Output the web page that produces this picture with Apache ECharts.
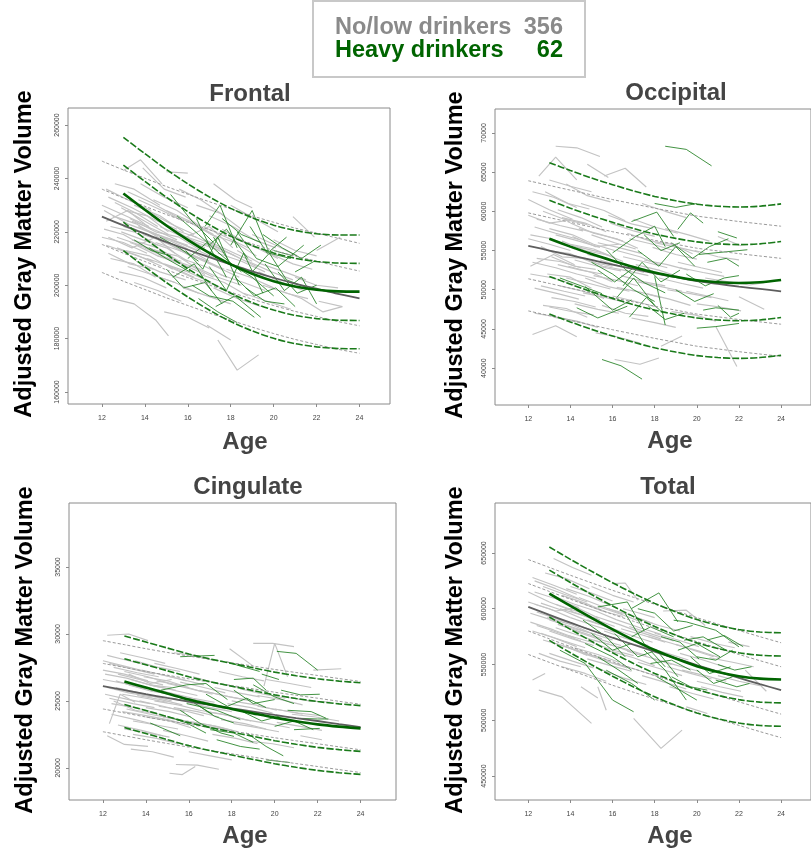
<!DOCTYPE html>
<html><head><meta charset="utf-8">
<script src="https://cdn.jsdelivr.net/npm/echarts@6/dist/echarts.min.js"></script>
<style>html,body{margin:0;padding:0;background:#fff}#c{width:811px;height:852px}</style>
</head><body><div id="c"></div><script>
// All volumes stored in thousands (x1000 for labels)
const UNIT = 1000;
const agesGray = [12,13,14,15,16,17,18,19,20,21,22,23,24];
const agesGreen = [13,14,15,16,17,18,19,20,21,22,23,24];
const xTicks = [12,14,16,18,20,22,24];
const groupNames = ['No/low drinkers','Heavy drinkers'];
const groupCounts = [356,62];

// ---------- Frontal ----------
const frontalTicks = [160,180,200,220,240,260];
const frontalGrayMean = [225.7,222.4,219.3,216.2,213.3,210.5,207.8,205.2,202.8,200.6,198.7,196.8,195.1];
const frontalGrayDash = [
[246.5,243.2,240.1,237.0,234.1,231.3,228.6,226.0,223.6,221.4,219.5,217.6,215.7],
[236.0,232.7,229.6,226.5,223.6,220.8,218.1,215.5,213.1,210.9,209.0,207.1,205.3],
[215.3,212.0,208.9,205.8,202.9,200.1,197.4,194.8,192.4,190.2,188.3,186.4,184.8],
[204.8,201.5,198.4,195.3,192.4,189.6,186.9,184.3,181.9,179.7,177.8,176.0,174.5]];
const frontalGreenMean = [234.4,228.3,222.4,217.0,212.1,207.8,204.3,201.5,199.5,198.3,197.7,197.6];
const frontalGreenDash = [
[255.4,249.3,243.4,238.0,233.1,228.8,225.3,222.5,220.5,219.3,218.8,218.8],
[245.0,238.9,233.0,227.6,222.7,218.4,214.9,212.1,210.1,208.9,208.3,208.2],
[223.6,217.5,211.6,206.2,201.3,197.0,193.5,190.7,188.7,187.5,186.9,186.8],
[213.0,206.9,201.0,195.6,190.7,186.4,182.9,180.1,178.1,176.9,176.3,176.2]];
const frontalGrayLines = [
[12.0,230,13.1,226,14.2,222],[12.1,221,13.0,219,14.1,214,15.0,212],[12.2,215,13.3,212,14.4,209],[12.3,233,13.4,229,14.6,224,15.5,221],
[12.4,210,13.5,208,14.5,203],[12.5,226,13.6,223,14.8,217],[12.6,238,13.5,236,14.7,230],[12.7,218,13.8,215,14.9,212,15.9,207],
[12.8,205,13.9,203,15.0,199],[12.9,229,14.0,224,15.1,219],[13.0,243,13.8,247,14.8,238],[13.0,222,14.1,219,15.2,215,16.1,211],
[13.1,213,14.2,211,15.3,206],[13.2,235,14.3,231,15.4,226],[13.3,225,14.5,220,15.6,218,16.6,213],[13.4,217,14.6,214,15.6,209],
[13.5,230,14.7,226,15.8,220],[13.6,209,14.7,205,15.9,202],[13.7,222,14.9,218,16.0,215],[13.8,238,14.9,233,16.0,229],
[14.0,214,15.1,210,16.2,207,17.2,203],[14.1,228,15.2,223,16.3,219],[14.2,220,15.3,217,16.4,213],[14.3,204,15.4,201,16.5,197],
[14.4,232,15.5,228,16.6,222],[14.5,225,15.6,219,16.7,216,17.7,212],[14.6,211,15.7,208,16.8,204],[14.8,218,15.9,214,17.0,209],
[15.0,242.5,16.0,242],[15.0,228,16.1,224,17.2,219],[15.1,207,16.2,203,17.3,200,18.3,196],[15.3,221,16.4,216,17.5,213],
[15.5,214,16.6,210,17.7,206],[15.6,236,16.6,232,17.7,226],[15.8,199,16.9,196,18.0,193],[16.0,224,17.1,219,18.2,216,19.2,211],
[16.2,211,17.3,207,18.4,203],[16.4,230,17.5,227,18.5,221],[16.6,204,17.7,201,18.8,196],[16.8,217,17.9,213,19.0,209],
[17.0,226,18.1,222,19.1,217,20.1,214],[17.2,199,18.3,195,19.4,192],[17.4,212,18.5,209,19.6,205],[17.6,221,18.7,216,19.8,212],
[17.8,206,18.9,203,20.0,199],[18.0,230,19.1,225,20.2,220],[18.3,213,19.4,208,20.5,205,21.5,202],[18.6,197,19.7,194,20.8,191],
[19.0,219,20.1,215,21.1,211],[19.3,205,20.4,201,21.4,198],[19.8,212,20.9,208,21.8,206],[20.9,225.7,21.9,218],
[22.0,213,23.1,218],[22.1,194,23.2,192],[12.5,195,13.5,193,14.5,187,15.1,181],[17.4,179.5,18.3,168.2,19.3,173.9],
[16.9,185,18.0,179.5],[20.3,198,21.3,195,22.3,190,23.2,192],[12.2,224,13.2,228,14.3,221],[13.5,201,14.6,198,15.7,194],
[14.9,190,16.0,188,17.0,184],[21.0,203,22.0,200,23.0,199],[15.9,218,17.0,222,18.1,214],[12.3,218,13.4,214,14.5,218,15.4,212],
[17.2,238,18.2,232,19.0,229],[13.9,244,14.9,236,15.9,233],
[12.0,218,13.0,216,14.1,212],[12.1,228,13.2,223,14.2,220,15.1,217],[12.3,212,13.3,208,14.4,206],[12.4,222,13.5,220,14.6,215],
[12.6,231,13.6,227,14.6,222],[12.7,214,13.7,211,14.8,207],[12.9,220,13.9,217,15.0,214,16.0,209],[13.1,228,14.1,226,15.1,220],
[13.2,207,14.3,204,15.4,201],[13.4,224,14.4,221,15.5,217],[13.6,215,14.6,211,15.7,209],[13.7,232,14.8,228,15.8,224],
[13.9,219,15.0,216,16.0,212],[14.1,210,15.2,207,16.3,203],[14.3,226,15.3,221,16.4,218],[14.5,216,15.6,213,16.6,210,17.6,206],
[14.7,222,15.8,218,16.8,214],[14.9,208,16.0,205,17.1,201],[15.2,217,16.2,214,17.3,210],[15.4,226,16.5,222,17.5,217],
[15.7,210,16.8,207,17.8,203],[16.1,219,17.2,215,18.2,211],[16.3,207,17.4,203,18.5,200],[16.7,222,17.8,218,18.8,214],
[17.1,215,18.2,211,19.2,207],[17.5,204,18.6,201,19.6,198],[18.1,218,19.2,214,20.2,210],[18.8,209,19.9,205,20.9,202],
[19.5,200,20.6,197,21.6,195],[20.0,217,21.0,213,22.0,211],[12.2,236,13.2,232,14.3,228],[13.3,216,14.4,213,15.5,211,16.5,206]
];
const frontalGreenLines = [
[15.2,234,16.2,224,17.2,216],[15.5,226,16.5,219,17.6,211,18.5,205],[16.4,225,17.0,215,17.8,221,18.8,210],[16.8,222,17.5,230,18.3,214],
[17.2,218,18.0,208,19.0,203,20.0,196],[18.0,215,19.0,228,19.8,212,20.8,210],[14.2,214,15.0,210,16.1,205],[15.0,206,15.8,199,16.8,201,17.6,193],
[15.9,213,16.7,206,17.4,218,18.4,200],[16.2,200,17.0,196,18.1,194,19.1,188],[17.0,207,17.8,198,18.6,212,19.5,197],[18.3,220,19.2,210,20.2,207,21.4,215],
[19.0,205,19.8,212,20.6,202,21.6,199],[19.5,219,20.4,214,21.3,210,22.2,215],[18.2,203,19.1,196,20.1,199,21.0,192],[17.3,192,18.2,196,19.4,188],
[19.6,208,20.5,198,21.3,203,22.0,193],[20.0,213,20.9,211],[16.0,210,16.9,216,17.8,203],[14.7,218,15.6,214,16.5,209],
[17.6,225,18.5,219,19.4,216],[18.7,199,19.6,194,20.5,193],[20.2,205,21.1,197,22.0,200],[16.5,195,17.4,190,18.3,186],
[13.5,217,14.3,213,15.2,211],[15.3,203,16.3,208,17.1,198],[18.9,222,19.7,212,20.6,218],[21.0,205,21.9,209]
];

// ---------- Occipital ----------
const occipitalTicks = [40,45,50,55,60,65,70];
const occipitalGrayMean = [55.6,55.0,54.4,53.8,53.2,52.65,52.1,51.6,51.1,50.75,50.4,50.1,49.8];
const occipitalGrayDash = [
[63.9,63.3,62.7,62.1,61.5,60.95,60.4,59.9,59.4,59.05,58.7,58.4,58.1],
[59.8,59.2,58.6,58.0,57.4,56.85,56.3,55.8,55.3,54.95,54.6,54.3,54.0],
[51.4,50.8,50.2,49.6,49.0,48.45,47.9,47.4,46.9,46.55,46.2,45.9,45.6],
[47.3,46.7,46.1,45.5,44.9,44.35,43.8,43.3,42.8,42.45,42.1,41.8,41.5]];
const occipitalGreenMean = [56.5,55.5,54.55,53.7,52.9,52.2,51.65,51.2,50.95,50.85,50.95,51.25];
const occipitalGreenDash = [
[66.2,65.2,64.25,63.4,62.6,61.9,61.35,60.9,60.65,60.55,60.65,60.95],
[61.4,60.4,59.45,58.6,57.8,57.1,56.55,56.1,55.85,55.75,55.85,56.15],
[51.7,50.7,49.75,48.9,48.1,47.4,46.85,46.4,46.15,46.05,46.15,46.45],
[46.9,45.9,44.95,44.1,43.3,42.6,42.05,41.6,41.35,41.25,41.35,41.65]];
const occipitalGrayLines = [
[12.0,61.5,13.0,60.2,14.1,59.0],[12.1,57.0,13.1,56.5,14.2,55.2],[12.2,53.5,13.3,52.8,14.3,52.0,15.2,51.4],[12.3,50.2,13.4,49.5,14.4,48.8],
[12.2,44.3,13.3,45.4,14.3,44.0],[12.5,64.5,13.3,66.9,14.3,64.0],[13.3,68.3,14.3,68.1,15.4,67.0],[12.4,59.0,13.5,58.2,14.6,57.5],
[12.6,55.5,13.6,54.2,14.7,54.0,15.7,52.8],[12.7,48.0,13.8,47.6,14.8,46.5],[12.8,62.5,13.9,61.0,14.9,60.3],[12.9,52.0,14.0,51.6,15.0,50.2],
[13.0,57.8,14.1,57.0,15.1,55.8,16.1,55.0],[13.1,54.2,14.2,53.0,15.2,52.6],[13.2,46.5,14.3,46.0,15.3,45.2],[13.4,60.2,14.5,59.2,15.5,58.0],
[13.5,50.5,14.6,49.8,15.6,48.9],[13.6,56.2,14.7,55.0,15.8,54.4],[13.8,63.5,14.8,62.0,15.9,61.2],[13.9,53.0,15.0,52.2,16.0,51.0],
[14.0,58.5,15.1,57.2,16.2,56.5,17.2,55.3],[14.2,48.2,15.3,47.5,16.3,47.0],[14.3,55.5,15.4,54.8,16.5,53.6],[14.5,61.0,15.6,60.1,16.6,58.8],
[14.7,51.5,15.8,50.4,16.8,49.8],[15.0,57.0,16.1,56.0,17.1,55.2],[15.2,44.5,16.2,44.0,17.3,43.2],[15.4,53.8,16.5,52.9,17.5,52.2],
[15.6,64.5,16.6,65.5,17.6,63.1],[15.8,59.5,16.9,58.4,17.9,57.8],[16.1,41.1,17.3,40.5,18.2,41.3],[16.0,49.2,17.1,48.5,18.1,47.8],
[16.2,55.0,17.3,54.2,18.3,53.1],[16.4,51.8,17.5,51.0,18.5,50.5],[16.7,57.2,17.8,56.2,18.8,55.8,19.8,54.6],[16.9,46.4,18.0,45.8,19.0,45.2],
[17.1,53.2,18.2,52.5,19.2,51.6],[17.4,61.0,18.5,60.0,19.5,59.2],[17.6,49.5,18.7,48.8,19.7,48.0],[17.9,55.4,19.0,54.5,20.0,53.9],
[18.3,42.8,19.3,44.1],[18.2,51.5,19.3,50.8,20.3,50.2],[18.5,57.8,19.6,57.0,20.6,56.2],[18.8,47.2,19.9,46.8,20.9,46.0],
[19.1,53.5,20.2,52.8,21.2,52.2],[19.5,49.8,20.5,49.2,21.5,48.6],[19.9,55.0,21.0,54.2,22.0,53.8],[20.9,45.3,21.9,40.2],
[22.0,49.1,23.2,47.5],[20.4,51.5,21.5,51.0,22.5,50.6,23.2,50.9],[21.0,56.8,22.1,55.6],[12.0,59.5,13.0,58.5,14.0,58.9],
[13.0,64.0,14.0,63.2,15.0,62.5],[14.8,66.0,15.8,64.3],[12.3,47.0,13.4,46.5,14.5,45.8],[15.5,48.0,16.6,47.0,17.7,46.6],
[17.0,59.0,18.0,58.0,19.1,57.2],[12.1,53.0,13.2,54.5,14.2,53.2],[14.1,56.8,15.2,55.5,16.3,55.8],
[12.0,56.5,13.0,55.8,14.0,55.0],[12.1,52.0,13.2,51.5,14.2,50.6],[12.3,58.0,13.3,57.2,14.4,56.4],[12.4,54.0,13.5,53.6,14.5,52.8],
[12.6,50.5,13.7,49.8,14.7,49.2],[12.7,60.0,13.7,59.0,14.8,58.3],[12.9,55.0,14.0,54.6,15.0,53.5,16.0,53.0],[13.1,49.0,14.2,48.5,15.2,47.8],
[13.3,57.0,14.4,56.2,15.4,55.4],[13.4,53.2,14.5,52.5,15.5,52.0],[13.6,59.2,14.7,58.5,15.7,57.4],[13.8,51.5,14.9,50.8,15.9,50.1],
[14.0,55.8,15.1,55.2,16.1,54.1],[14.2,53.8,15.3,53.0,16.4,52.4],[14.4,57.8,15.5,57.0,16.5,56.2],[14.6,49.6,15.7,49.0,16.7,48.3],
[14.8,54.5,15.9,53.8,16.9,53.0,17.9,52.4],[15.1,51.8,16.2,51.2,17.2,50.5],[15.3,56.0,16.4,55.3,17.4,54.6],[15.6,53.0,16.7,52.4,17.7,51.8],
[15.9,58.5,17.0,57.5,18.0,56.8],[16.2,50.3,17.3,49.7,18.3,49.0],[16.5,54.2,17.6,53.5,18.6,52.8],[16.8,56.5,17.9,55.8,18.9,55.0],
[17.2,51.0,18.3,50.4,19.3,49.8],[17.5,53.8,18.6,53.2,19.6,52.5],[18.0,56.0,19.1,55.4,20.1,54.8],[18.6,50.0,19.7,49.5,20.7,49.0],
[19.2,52.8,20.3,52.2,21.3,51.7],[20.0,48.2,21.1,47.8,22.1,47.3],[12.2,62.5,13.2,61.8,14.3,60.5],[13.0,47.8,14.1,47.2,15.1,46.8]
];
const occipitalGreenLines = [
[18.5,68.3,19.5,67.9,20.7,65.8],[15.5,41.1,16.4,40.3,17.4,38.6],[16.9,58.7,18.1,59.9,18.9,56.8],[16.0,54.7,17.1,56.8,18.0,58.1,18.5,55.5],
[19.1,57.7,19.7,59.8,20.3,58.5],[21.0,57.4,21.9,56.6],[20.1,54.5,22.4,55.1],[15.7,55.1,16.6,52.6,17.5,50.9,18.5,49.6],
[14.3,47.7,15.3,46.4,16.7,47.9],[17.7,47.9,18.5,46.2,19.4,47.0],[20.0,45.1,20.9,45.3,22.0,45.7],[20.3,47.4,20.9,47.7,22.0,47.4],
[18.0,51.7,18.5,45.5],[14.7,50.4,16.0,47.4,16.9,48.7],[15.0,53.5,16.0,52.0,17.0,50.0,18.0,48.5],[16.5,50.5,17.4,53.5,18.3,51.0,19.2,52.5],
[17.2,55.0,18.2,53.0,19.0,55.5,19.9,53.0],[18.8,56.0,19.8,54.0,20.6,55.5,21.5,56.5],[19.5,52.0,20.4,50.5,21.3,51.5,22.0,51.8],[16.2,49.0,17.0,51.5,18.0,48.0],
[17.5,57.0,18.3,55.0,19.2,56.0],[18.0,61.0,19.0,60.5,20.0,61.0],[19.0,50.0,19.9,48.5,20.8,49.5],[15.3,52.5,16.1,51.0,17.0,52.8],
[20.5,53.5,21.4,54.0,22.0,53.0],[16.8,46.5,17.6,49.0,18.4,47.0],[21.0,48.0,21.6,46.5,22.0,47.0],[13.5,51.5,14.5,50.5,15.5,49.5]
];

// ---------- Cingulate ----------
const cingulateTicks = [20,25,30,35];
const cingulateGrayMean = [26.1,25.8,25.5,25.22,24.95,24.7,24.45,24.2,23.95,23.72,23.5,23.27,23.05];
const cingulateGrayDash = [
[29.5,29.2,28.9,28.62,28.35,28.1,27.85,27.6,27.35,27.12,26.9,26.67,26.45],
[27.8,27.5,27.2,26.92,26.65,26.4,26.15,25.9,25.65,25.42,25.2,24.97,24.75],
[24.4,24.1,23.8,23.52,23.25,23.0,22.75,22.5,22.25,22.02,21.8,21.57,21.35],
[22.7,22.4,22.1,21.82,21.55,21.3,21.05,20.8,20.55,20.32,20.1,19.87,19.65]];
const cingulateGreenMean = [26.45,26.0,25.55,25.1,24.73,24.4,24.07,23.75,23.48,23.25,23.08,22.95];
const cingulateGreenDash = [
[29.85,29.4,28.95,28.5,28.13,27.8,27.47,27.15,26.88,26.65,26.48,26.35],
[28.15,27.7,27.25,26.8,26.43,26.1,25.77,25.45,25.18,24.95,24.78,24.65],
[24.73,24.28,23.83,23.38,23.01,22.68,22.35,22.03,21.76,21.53,21.36,21.23],
[23.01,22.56,22.11,21.66,21.29,20.96,20.63,20.31,20.04,19.81,19.64,19.51]];
const cingulateGrayLines = [
[12.2,29.9,13.2,30.0,14.1,29.5],[12.0,28.0,13.0,27.6,14.0,27.2],[12.1,27.0,13.1,26.7,14.2,26.2,15.2,26.0],[12.2,26.0,13.2,25.6,14.3,25.3],
[12.3,25.2,13.4,24.8,14.4,24.5],[12.2,22.4,13.0,21.75,14.1,21.6],[12.4,24.0,13.5,23.6,14.5,23.2],[12.5,27.5,13.6,27.1,14.6,26.8],
[12.6,26.5,13.7,26.0,14.7,25.8,15.7,25.3],[12.7,23.2,13.8,22.8,14.8,22.4],[12.8,28.6,13.9,28.2,14.9,27.8],[12.9,25.5,14.0,25.2,15.0,24.9],
[13.0,27.2,14.1,26.8,15.1,26.3],[13.1,24.4,14.2,24.0,15.2,23.7,16.2,23.3],[13.2,26.2,14.3,25.7,15.3,25.5],[13.4,22.5,14.5,22.2,15.5,21.8],
[13.5,28.0,14.6,27.5,15.6,27.2],[13.7,25.0,14.8,24.6,15.8,24.2],[13.9,26.8,15.0,26.5,16.0,26.0],[14.0,23.8,15.1,23.5,16.1,23.0],
[14.2,25.8,15.3,25.4,16.3,25.1,17.3,24.7],[14.4,27.8,15.5,27.4,16.5,27.0],[14.6,24.6,15.7,24.3,16.7,23.9],[14.8,22.8,15.9,22.4,16.9,22.0],
[15.1,19.6,15.7,19.5,16.3,20.1],[15.4,20.25,16.4,20.2,17.4,19.9],[15.0,26.3,16.1,25.9,17.1,25.5],[15.3,28.6,16.3,28.4,17.2,28.0],
[15.6,25.2,16.7,24.8,17.7,24.4],[15.9,23.5,17.0,23.2,18.0,22.8],[16.2,26.8,17.3,26.3,18.3,26.0],[16.5,24.3,17.6,24.0,18.6,23.6],
[16.8,25.7,17.9,25.3,18.9,25.0],[17.1,22.5,18.2,22.2,19.2,21.8],[17.4,27.2,18.5,26.8,19.5,26.5],[17.9,28.9,19.0,27.6],
[17.8,24.8,18.9,24.5,19.9,24.1],[18.1,23.3,19.2,23.0,20.2,22.7],[18.4,25.9,19.5,25.5,20.5,25.2],[19.0,29.3,19.9,29.3,20.9,29.05],
[19.5,26.1,20.0,29.3,20.6,26.8],[18.8,22.0,19.9,21.8,20.9,21.5],[19.2,24.6,20.3,24.3,21.3,24.0],[19.6,26.6,20.7,26.3,21.7,26.0],
[20.1,23.4,21.2,23.1,22.2,22.8],[20.5,25.3,21.6,25.0,22.6,24.9],[21.8,27.3,23.1,27.4],[21.2,22.4,22.2,22.1],
[20.8,24.0,21.9,23.8,23.0,23.5],[12.3,23.3,12.8,25.5,13.5,24.9],[13.3,21.4,14.3,21.2,15.3,20.8],[16.0,21.2,17.0,20.9,18.0,20.6],
[12.0,27.3,13.0,27.0,14.1,26.5],[14.5,26.5,15.5,26.2,16.6,25.7],[13.2,27.0,14.2,26.3,15.2,26.6],[12.5,25.0,13.5,24.3,14.6,24.0],
[12.0,26.6,13.0,26.3,14.0,25.9],[12.1,25.5,13.2,25.1,14.2,24.8],[12.3,27.8,13.3,27.4,14.4,27.0],[12.4,24.8,13.5,24.5,14.5,24.1],
[12.6,26.0,13.7,25.6,14.7,25.2],[12.7,27.0,13.7,26.6,14.8,26.2],[12.9,24.2,14.0,23.9,15.0,23.6,16.0,23.2],[13.1,25.7,14.2,25.4,15.2,25.0],
[13.3,26.6,14.4,26.1,15.4,25.8],[13.4,23.5,14.5,23.2,15.5,22.9],[13.6,25.4,14.7,25.1,15.7,24.7],[13.8,27.3,14.9,26.9,15.9,26.5],
[14.0,24.5,15.1,24.2,16.1,23.8],[14.2,26.2,15.3,25.8,16.4,25.4],[14.4,25.0,15.5,24.7,16.5,24.3],[14.6,27.0,15.7,26.6,16.7,26.2],
[14.8,23.8,15.9,23.5,16.9,23.1,17.9,22.8],[15.1,25.6,16.2,25.2,17.2,24.9],[15.3,24.5,16.4,24.2,17.4,23.8],[15.6,26.4,16.7,26.0,17.7,25.6],
[15.9,24.9,17.0,24.5,18.0,24.2],[16.2,23.4,17.3,23.1,18.3,22.7],[16.5,25.8,17.6,25.4,18.6,25.1],[16.8,24.2,17.9,23.9,18.9,23.5],
[17.2,26.0,18.3,25.6,19.3,25.3],[17.5,23.6,18.6,23.3,19.6,22.9],[18.0,25.0,19.1,24.7,20.1,24.3],[18.6,23.6,19.7,23.3,20.7,23.0],
[19.2,25.4,20.3,25.1,21.3,24.7],[20.0,24.4,21.1,24.1,22.1,23.9],[12.2,28.4,13.2,28.0,14.3,27.6],[13.0,22.9,14.1,22.6,15.1,22.3]
];
const cingulateGreenLines = [
[20.1,28.7,21.0,28.55,22.0,27.3],[15.6,28.3,17.2,28.4],[17.8,27.9,18.4,27.6,19.3,27.2],[20.3,25.8,21.2,25.45,22.1,25.5],
[18.1,26.6,19.0,26.7,19.6,25.8],[14.7,25.8,15.9,26.2,16.8,26.3,17.8,25.1],[20.6,24.3,21.7,24.2,22.4,23.7],[15.6,24.3,16.5,23.35,17.5,22.6,18.1,22.35],
[18.7,22.6,19.6,21.6,20.4,20.9],[19.6,20.6,20.7,20.4],[17.0,22.85,18.1,22.6,19.0,21.9],[15.9,24.8,17.3,24.3,18.4,23.6],
[21.2,23.7,22.0,23.65,22.5,23.65],[20.0,23.1,20.9,23.5,21.8,22.85],[19.0,26.2,20.0,25.3,20.9,24.8],[16.5,24.6,17.2,23.85,18.1,23.35],
[15.0,23.85,15.9,23.35,16.8,22.6],[17.3,22.1,18.4,21.6,19.3,21.4],[14.2,23.35,15.6,22.4],[18.1,25.8,19.0,24.8,20.0,25.1],
[20.9,22.85,22.1,22.95],[16.8,25.5,17.8,24.6,18.7,25.2,19.6,24.5],[18.5,24.2,19.4,23.5,20.3,23.9],[15.2,25.2,16.2,24.9,17.1,24.0],
[19.4,27.0,20.2,26.6]
];

// ---------- Total ----------
const totalTicks = [450,500,550,600,650];
const totalGrayMean = [601.6,594.5,587.5,580.7,574.0,567.7,561.5,555.5,549.5,543.7,538.0,532.4,527.0];
const totalGrayDash = [
[644.1,637.0,630.0,623.2,616.5,610.2,604.0,598.0,592.0,586.2,580.5,574.9,569.5],
[622.6,615.5,608.5,601.7,595.0,588.7,582.5,576.5,570.5,564.7,559.0,553.4,548.0],
[580.1,573.0,566.0,559.2,552.5,546.2,540.0,534.0,528.0,522.2,516.5,510.9,505.5],
[559.0,551.9,544.9,538.1,531.4,525.1,518.9,512.9,506.9,501.1,495.4,489.8,484.4]];
const totalGreenMean = [613.6,602.5,591.8,581.5,571.9,563.0,555.3,548.5,543.3,539.5,537.3,536.6];
const totalGreenDash = [
[655.4,644.3,633.6,623.3,613.7,604.8,597.1,590.3,585.1,581.3,579.1,578.4],
[634.6,623.5,612.8,602.5,592.9,584.0,576.3,569.5,564.3,560.5,558.3,557.6],
[592.6,581.5,570.8,560.5,550.9,542.0,534.3,527.5,522.3,518.5,516.3,515.6],
[571.6,560.5,549.8,539.5,529.9,521.0,513.3,506.5,501.3,497.5,495.3,494.6]];
const totalGrayLines = [
[12.0,615,13.0,606,14.1,598],[12.1,596,13.1,590,14.2,582,15.2,577],[12.2,536,12.8,542],[12.3,625,13.3,618,14.4,609],
[12.4,585,13.5,578,14.5,571],[12.5,527,13.6,521,15.0,497.2],[12.6,605,13.7,598,14.7,590,15.7,584],[12.7,572,13.8,566,14.8,558],
[12.8,632,13.8,627,14.9,618],[12.9,595,14.0,587,15.0,581],[13.0,560,14.1,553,15.1,547],[13.1,612,14.2,604,15.2,598,16.2,590],
[13.2,645,14.1,637,15.0,630],[13.3,583,14.4,576,15.4,570],[13.5,600,14.6,594,15.6,586],[13.6,548,14.7,542,15.7,535],
[13.8,618,14.9,611,15.9,603],[13.9,576,15.0,570,16.0,563,17.0,558],[14.0,592,15.1,585,16.1,579],[14.2,565,15.3,559,16.3,552],
[14.4,606,15.5,598,16.5,593],[14.6,583,15.7,576,16.7,570],[14.8,555,15.9,549,16.9,544],[15.0,620,16.0,612,17.0,606],
[15.3,530,15.7,509],[15.2,593,16.3,586,17.3,579,18.3,573],[15.5,570,16.6,564,17.6,558],[15.8,600,16.9,594,17.9,587],
[16.0,622.5,16.6,623.1,17.2,607.6],[16.1,551,17.2,545,18.2,539],[16.4,582,17.5,576,18.5,570],[16.7,562,17.8,556,18.8,550],
[17.0,501.6,18.3,474.8,19.3,491.2],[17.1,592,18.2,585,19.2,580],[17.4,540,18.5,534,19.5,528],[17.7,575,18.8,569,19.8,563,20.8,557],
[18.0,555,19.1,549,20.1,544],[18.4,598,19.5,598.7,20.4,585],[18.7,530,19.8,524,20.8,519],[19.0,568,20.1,562,21.1,556],
[19.3,545,20.4,540,21.4,535],[19.7,575,20.8,569,21.8,565],[20.2,530,21.2,525,22.2,521],[20.6,556,21.7,552,22.7,548],
[21.0,540,22.0,535,23.0,531],[21.5,570,22.5,566],[22.3,545,23.3,526],[14.5,530,15.3,520],
[12.5,560,13.5,553,14.5,548],[13.0,590,14.0,584,15.0,578],[16.5,600,17.3,596,18.0,592],[19.5,512,20.5,506],
[14.0,620,15.0,614,16.0,607],[12.2,580,13.2,574,14.3,566],[15.5,545,16.5,538,17.6,532],[12.3,604,13.3,598,14.3,601,15.3,592],
[12.0,606,13.0,600,14.0,592],[12.1,588,13.2,581,14.2,574],[12.3,615,13.3,609,14.4,601],[12.4,597,13.5,590,14.5,584],
[12.6,578,13.7,571,14.7,565],[12.7,620,13.7,613,14.8,606],[12.9,592,14.0,586,15.0,578,16.0,572],[13.1,570,14.2,563,15.2,557],
[13.3,604,14.4,597,15.4,590],[13.4,586,14.5,579,15.5,573],[13.6,612,14.7,605,15.7,597],[13.8,566,14.9,559,15.9,553],
[14.0,598,15.1,591,16.1,584],[14.2,580,15.3,573,16.4,567],[14.4,610,15.5,602,16.5,595],[14.6,560,15.7,553,16.7,547],
[14.8,590,15.9,583,16.9,576,17.9,570],[15.1,572,16.2,566,17.2,559],[15.3,602,16.4,595,17.4,588],[15.6,580,16.7,573,17.7,567],
[15.9,562,17.0,556,18.0,549],[16.2,590,17.3,583,18.3,577],[16.5,571,17.6,565,18.6,558],[16.8,584,17.9,577,18.9,571],
[17.2,552,18.3,546,19.3,540],[17.5,566,18.6,560,19.6,554],[18.0,578,19.1,572,20.1,566],[18.6,548,19.7,542,20.7,537],
[19.2,560,20.3,554,21.3,548],[20.0,535,21.1,530,22.1,526],[12.2,628,13.2,621,14.3,613],[13.0,580,14.1,573,15.1,567]
];
const totalGreenLines = [
[16.9,600.2,18.2,614.2,19.1,588.2],[15.3,601.6,16.7,606.1,17.5,580.7],[13.5,562.8,14.7,550.9,16.0,518.1,17.0,507.6],[15.7,544.9,16.9,533.0,18.0,518.1],
[18.9,589.7,19.5,588.2,20.9,580.7,22.0,565.8],[19.4,571.8,20.3,574.8,21.4,562.8],[20.0,556.9,20.9,553.9,21.7,562.8],[17.5,562.8,18.5,544.9,19.5,518.1],
[16.1,577.8,17.2,556.9,18.1,562.8,19.1,539.0],[18.8,539.0,19.7,530.0,20.5,527.0],[19.7,556.9,20.6,541.9,21.6,547.9],[16.9,574.8,17.8,583.7,18.9,574.8],
[14.6,589.7,15.7,574.8,16.6,556.9],[14.7,568.8,16.0,556.9,16.9,545.0],[20.9,536.0,21.9,530.0,22.5,533.0],[20.0,545.0,20.8,533.0,21.7,539.0],
[15.3,556.9,16.3,544.9,17.2,533.0],[17.8,550.9,18.8,553.9,19.7,545.0],[16.6,595.7,17.5,568.8,18.5,547.9],[19.1,562.8,20.0,568.8,21.1,556.9],
[18.1,539.0,19.2,527.0,20.0,518.1],[15.0,577.8,16.0,562.8,16.9,568.8],[17.2,600.0,18.0,596.0,18.9,580.0,19.8,585.0],[20.5,572.0,21.3,576.0,22.2,566.0],
[21.0,550.0,21.8,545.0,22.6,548.0],[18.3,575.0,19.2,570.0,20.1,555.0]
];

const panels = [
 {title:'Frontal', grid:{left:68,top:108,width:322,height:296}, xMin:10.42, xMax:25.42, yMin:155.5, yMax:266.4, ticks:frontalTicks,
  grayLines:frontalGrayLines, greenLines:frontalGreenLines, grayMean:frontalGrayMean, grayDash:frontalGrayDash, greenMean:frontalGreenMean, greenDash:frontalGreenDash,
  titlePos:[250,94], agePos:[245,442], ylabPos:[25,254]},
 {title:'Occipital', grid:{left:495,top:109,width:322,height:296}, xMin:10.42, xMax:25.42, yMin:35.3, yMax:73.05, ticks:occipitalTicks,
  grayLines:occipitalGrayLines, greenLines:occipitalGreenLines, grayMean:occipitalGrayMean, grayDash:occipitalGrayDash, greenMean:occipitalGreenMean, greenDash:occipitalGreenDash,
  titlePos:[676,93], agePos:[670,441], ylabPos:[456,255]},
 {title:'Cingulate', grid:{left:69,top:503,width:327,height:297}, xMin:10.42, xMax:25.65, yMin:17.6, yMax:39.78, ticks:cingulateTicks,
  grayLines:cingulateGrayLines, greenLines:cingulateGreenLines, grayMean:cingulateGrayMean, grayDash:cingulateGrayDash, greenMean:cingulateGreenMean, greenDash:cingulateGreenDash,
  titlePos:[248,487], agePos:[245,836], ylabPos:[26,650]},
 {title:'Total', grid:{left:495,top:503,width:322,height:297}, xMin:10.42, xMax:25.42, yMin:428.5, yMax:694.8, ticks:totalTicks,
  grayLines:totalGrayLines, greenLines:totalGreenLines, grayMean:totalGrayMean, grayDash:totalGrayDash, greenMean:totalGreenMean, greenDash:totalGreenDash,
  titlePos:[668,487], agePos:[670,836], ylabPos:[456,650]}
];

function traj(flat){const p=[];for(let i=0;i<flat.length;i+=2)p.push([flat[i],flat[i+1]]);return p;}
function curve(ages,vals){return ages.map((a,i)=>[a,vals[i]]);}

const grids=[],xAxes=[],yAxes=[],series=[],graphics=[];
const FONT='"Liberation Sans", Arial, Helvetica, sans-serif';
panels.forEach((p,i)=>{
  grids.push(Object.assign({show:true,borderColor:'#8a8a8a',borderWidth:1,backgroundColor:'transparent',containLabel:false},p.grid));
  xAxes.push({type:'value',gridIndex:i,min:p.xMin,max:p.xMax,
    axisLine:{show:false},splitLine:{show:false},
    axisTick:{show:true,length:3,lineStyle:{color:'#8a8a8a'},customValues:xTicks},
    axisLabel:{customValues:xTicks,fontSize:7,color:'#444',margin:11,fontFamily:FONT}});
  yAxes.push({type:'value',gridIndex:i,min:p.yMin,max:p.yMax,
    axisLine:{show:false},splitLine:{show:false},
    axisTick:{show:true,length:3,lineStyle:{color:'#8a8a8a'},customValues:p.ticks},
    axisLabel:{customValues:p.ticks,fontSize:7,color:'#444',margin:7,rotate:90,fontFamily:FONT,
      formatter:v=>String(Math.round(v*UNIT))}});
  const base={type:'line',xAxisIndex:i,yAxisIndex:i,symbol:'none',showSymbol:false,silent:true,animation:false};
  p.grayLines.forEach(l=>series.push(Object.assign({},base,{data:traj(l),z:1,lineStyle:{color:'#c3c3c3',width:1.15}})));
  p.greenLines.forEach(l=>series.push(Object.assign({},base,{data:traj(l),z:3,lineStyle:{color:'rgba(34,128,34,0.85)',width:1}})));
  p.grayDash.forEach(d=>series.push(Object.assign({},base,{data:curve(agesGray,d),smooth:0.3,z:4,lineStyle:{color:'#9a9a9a',width:1,type:[3,2]}})));
  series.push(Object.assign({},base,{data:curve(agesGray,p.grayMean),smooth:0.3,z:5,lineStyle:{color:'#5e5e5e',width:1.8}}));
  p.greenDash.forEach(d=>series.push(Object.assign({},base,{data:curve(agesGreen,d),smooth:0.3,z:6,lineStyle:{color:'#1a7a1a',width:1.6,type:[7,2]}})));
  series.push(Object.assign({},base,{data:curve(agesGreen,p.greenMean),smooth:0.3,z:7,lineStyle:{color:'#006400',width:2.6}}));
  graphics.push({type:'text',x:p.titlePos[0],y:p.titlePos[1],style:{text:p.title,font:'bold 24px '+FONT,fill:'#444',align:'center',verticalAlign:'middle'}});
  graphics.push({type:'text',x:p.agePos[0],y:p.agePos[1],style:{text:'Age',font:'bold 24px '+FONT,fill:'#444',align:'center',verticalAlign:'middle'}});
  graphics.push({type:'text',x:p.ylabPos[0],y:p.ylabPos[1],rotation:Math.PI/2,style:{text:'Adjusted Gray Matter Volume',font:'bold 23.5px '+FONT,fill:'#000',align:'center',verticalAlign:'middle'}});
});
// legend box
graphics.push({type:'rect',shape:{x:313,y:1,width:272,height:76},style:{fill:'#fff',stroke:'#c8c8c8',lineWidth:2},z:10});
const legColors=['#8a8a8a','#006400'];
const legY=[27.5,51];
groupNames.forEach((n,k)=>{
  graphics.push({type:'text',x:335,y:legY[k],z:11,style:{text:n,font:'bold 23.5px '+FONT,fill:legColors[k],align:'left',verticalAlign:'middle'}});
  graphics.push({type:'text',x:563,y:legY[k],z:11,style:{text:String(groupCounts[k]),font:'bold 23.5px '+FONT,fill:legColors[k],align:'right',verticalAlign:'middle'}});
});

const chart=echarts.init(document.getElementById('c'),null,{renderer:'canvas'});
chart.setOption({animation:false,backgroundColor:'#fff',grid:grids,xAxis:xAxes,yAxis:yAxes,series:series,graphic:graphics});
</script></body></html>
